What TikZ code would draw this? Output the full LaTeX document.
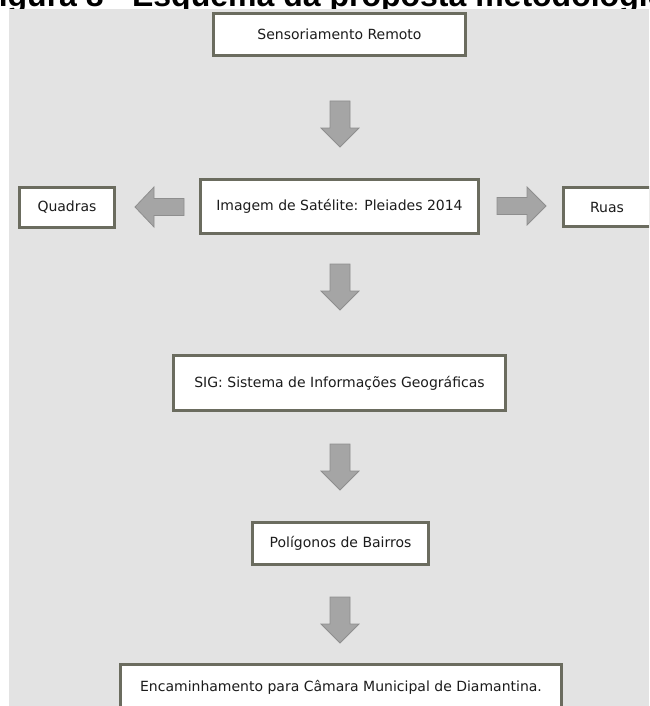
\documentclass[tikz,border=0pt]{standalone}
\usepackage{fontspec}
\setmainfont{DejaVu Sans}
\newfontfamily\titlefam{Liberation Sans}
\definecolor{bggray}{HTML}{E3E3E3}
\definecolor{boxline}{HTML}{6B6C5F}
\definecolor{arrfill}{HTML}{A5A5A5}
\definecolor{arrline}{HTML}{8E8E8E}
\definecolor{txt}{HTML}{1C1C1C}
\tikzset{
  stepbox/.style={draw=boxline, line width=3pt, fill=white, inner sep=0pt,
    text=txt, font=\fontsize{14}{16}\selectfont, align=center},
  arrshape/.style={fill=arrfill, draw=arrline, line width=0.8pt},
  pics/downarr/.style={code={
    \draw[arrshape] (-10,0) -- (10,0) -- (10,27) -- (19,27) -- (0,46)
      -- (-19,27) -- (-10,27) -- cycle;}},
  pics/leftarr/.style={code={
    \draw[arrshape] (0,0) -- (19,-20) -- (19,-8.5) -- (49,-8.5) -- (49,8.5)
      -- (19,8.5) -- (19,20) -- cycle;}},
  pics/rightarr/.style={code={
    \draw[arrshape] (0,0) -- (-19,-19) -- (-19,-8.5) -- (-49,-8.5) -- (-49,8.5)
      -- (-19,8.5) -- (-19,19) -- cycle;}}
}
\begin{document}
\begin{tikzpicture}[x=1pt,y=-1pt]
\useasboundingbox (0,0) rectangle (649,706);
\clip (0,0) rectangle (649,706);
% title (partly hidden, as in the reference)
\node[anchor=base west, inner sep=0pt, font=\titlefam\bfseries\fontsize{32}{36}\selectfont]
  (title) at (-21,7) {Figura 8 - Esquema da proposta metodológica};
% background
\fill[bggray] (9,9) rectangle (649,706);
% boxes
\node[stepbox, minimum width=252pt, minimum height=42pt] (sens) at (339.5,34.5) {Sensoriamento Remoto};
\node[stepbox, minimum width=278pt, minimum height=54pt] (img) at (339.5,206.5) {Imagem de Satélite: Pleiades 2014};
\node[stepbox, minimum width=95pt, minimum height=40pt] (quad) at (67,207.5) {Quadras};
\node[stepbox, minimum width=87pt, minimum height=39pt] (ruas) at (607,207) {Ruas};
\node[stepbox, minimum width=332pt, minimum height=55pt] (sig) at (339.5,383) {SIG: Sistema de Informações Geográficas};
\node[stepbox, minimum width=176pt, minimum height=42pt] (pol) at (340.5,543.5) {Polígonos de Bairros};
\node[stepbox, minimum width=441pt, minimum height=45pt] (enc) at (341,687) {Encaminhamento para Câmara Municipal de Diamantina.};
% block arrows
\pic (a1) at (340,101) {downarr};
\pic (a2) at (340,264) {downarr};
\pic (a3) at (340,444) {downarr};
\pic (a4) at (340,597) {downarr};
\pic (al) at (135,207) {leftarr};
\pic (ar) at (546,206) {rightarr};
\end{tikzpicture}
\end{document}
